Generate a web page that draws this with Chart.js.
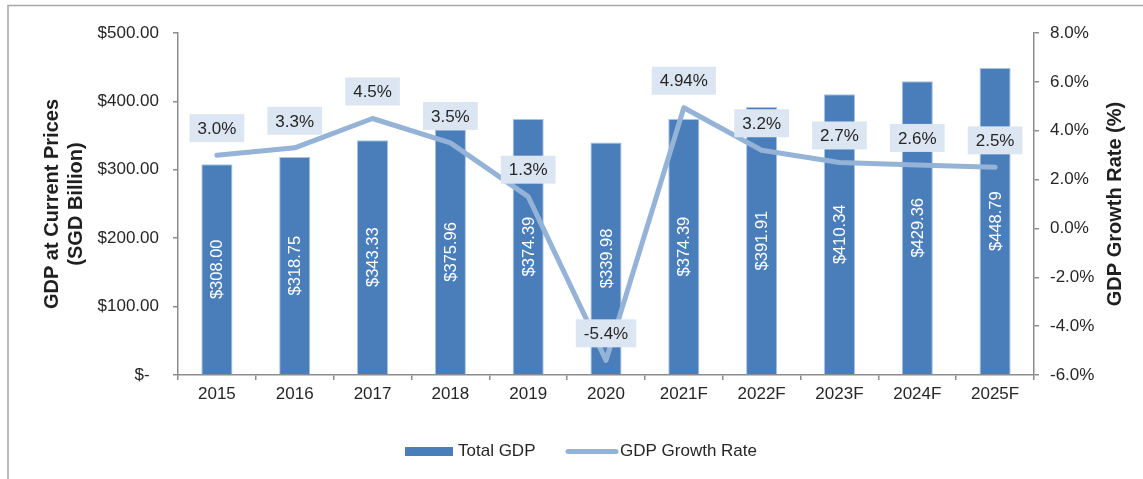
<!DOCTYPE html>
<html>
<head>
<meta charset="utf-8">
<script src="https://cdn.jsdelivr.net/npm/chart.js@4"></script>
<style>
  html, body { margin: 0; padding: 0; background: #fff; }
</style>
</head>
<body>
<canvas id="chart" width="1143" height="479"></canvas>
<script>
const years = ['2015', '2016', '2017', '2018', '2019', '2020', '2021F', '2022F', '2023F', '2024F', '2025F'];
// bar heights as drawn (2018 bar is drawn lower than its label says)
const totalGdp = [308.00, 318.75, 343.33, 359.00, 374.39, 339.98, 374.39, 391.91, 410.34, 429.36, 448.79];
const gdpLabels = ['$308.00', '$318.75', '$343.33', '$375.96', '$374.39', '$339.98', '$374.39', '$391.91', '$410.34', '$429.36', '$448.79'];
const growthRate = [3.0, 3.3, 4.5, 3.5, 1.3, -5.4, 4.94, 3.2, 2.7, 2.6, 2.5];
const growthLabels = ['3.0%', '3.3%', '4.5%', '3.5%', '1.3%', '-5.4%', '4.94%', '3.2%', '2.7%', '2.6%', '2.5%'];
const gdpTicks = ['$-  ', '$100.00', '$200.00', '$300.00', '$400.00', '$500.00'];
const rateTicks = ['-6.0%', '-4.0%', '-2.0%', '0.0%', '2.0%', '4.0%', '6.0%', '8.0%'];

const FONT = '"Liberation Sans", Arial, sans-serif';
const TEXT = '#262626';
const AXIS = '#8c8c8c';
const BAR = '#4a7ebb';
const LINE = '#95b3d7';

const decorations = {
  id: 'decorations',
  beforeDraw(chart) {
    const ctx = chart.ctx;
    ctx.save();
    ctx.strokeStyle = '#a6a6a6';
    ctx.lineWidth = 1.5;
    ctx.beginPath();
    ctx.moveTo(8, 479);
    ctx.lineTo(8, 5.5);
    ctx.lineTo(1143, 5.5);
    ctx.stroke();
    ctx.restore();
  },
  afterDatasetsDraw(chart) {
    const ctx = chart.ctx;
    ctx.save();
    ctx.textAlign = 'center';
    ctx.textBaseline = 'middle';

    // values inside the bars
    ctx.font = '16.5px ' + FONT;
    ctx.fillStyle = '#fff';
    chart.getDatasetMeta(0).data.forEach((bar, i) => {
      ctx.save();
      ctx.translate(bar.x, (bar.y + bar.base) / 2);
      ctx.rotate(-Math.PI / 2);
      ctx.fillText(gdpLabels[i], 0, 1);
      ctx.restore();
    });

    // growth rate boxes
    ctx.font = '17px ' + FONT;
    chart.getDatasetMeta(1).data.forEach((pt, i) => {
      const w = ctx.measureText(growthLabels[i]).width + 16;
      const h = 28;
      const cy = pt.y - 27;
      ctx.fillStyle = '#dce6f2';
      ctx.fillRect(pt.x - w / 2, cy - h / 2, w, h);
      ctx.fillStyle = TEXT;
      ctx.fillText(growthLabels[i], pt.x, cy + 1);
    });
    ctx.restore();
  },
  afterDraw(chart) {
    const ctx = chart.ctx;
    const area = chart.chartArea;
    const midY = (area.top + area.bottom) / 2;
    ctx.save();
    ctx.fillStyle = '#1f1f1f';
    ctx.font = 'bold 20px ' + FONT;
    ctx.textAlign = 'center';
    ctx.textBaseline = 'middle';

    // left title, two lines
    ctx.save();
    ctx.translate(52, midY);
    ctx.rotate(-Math.PI / 2);
    ctx.fillText('GDP at Current Prices', 0, 0);
    ctx.fillText('(SGD Billion)', 0, 24);
    ctx.restore();

    // right title
    ctx.save();
    ctx.translate(1115, midY);
    ctx.rotate(-Math.PI / 2);
    ctx.fillText('GDP Growth Rate (%)', 0, 0);
    ctx.restore();

    // legend
    const ly = 451.5;
    ctx.fillStyle = BAR;
    ctx.fillRect(405, ly - 4.5, 48, 9);
    ctx.strokeStyle = LINE;
    ctx.lineWidth = 5;
    ctx.lineCap = 'round';
    ctx.beginPath();
    ctx.moveTo(568, ly);
    ctx.lineTo(616, ly);
    ctx.stroke();
    ctx.fillStyle = TEXT;
    ctx.font = '17px ' + FONT;
    ctx.textAlign = 'left';
    ctx.fillText('Total GDP', 458, ly);
    ctx.fillText('GDP Growth Rate', 620, ly);
    ctx.restore();
  }
};

new Chart(document.getElementById('chart'), {
  type: 'bar',
  data: {
    labels: years,
    datasets: [
      {
        type: 'bar',
        label: 'Total GDP',
        data: totalGdp,
        yAxisID: 'y',
        backgroundColor: BAR,
        borderColor: '#a9c3e3',
        borderWidth: 1,
        barPercentage: 0.4,
        categoryPercentage: 1,
        order: 2
      },
      {
        type: 'line',
        label: 'GDP Growth Rate',
        data: growthRate,
        yAxisID: 'y1',
        borderColor: LINE,
        backgroundColor: LINE,
        borderWidth: 5,
        borderJoinStyle: 'round',
        borderCapStyle: 'round',
        pointRadius: 0,
        tension: 0,
        order: 1
      }
    ]
  },
  options: {
    responsive: false,
    animation: false,
    layout: { padding: { top: 33, left: 0, right: 0, bottom: 0 } },
    plugins: {
      legend: { display: false },
      tooltip: { enabled: false }
    },
    scales: {
      x: {
        afterFit: s => { s.height = 104; },
        grid: { drawOnChartArea: false, tickLength: 5, color: AXIS, lineWidth: 1.5, offset: true },
        border: { color: AXIS, width: 1.5 },
        ticks: { color: TEXT, font: { family: FONT, size: 17 }, padding: 4, maxRotation: 0 }
      },
      y: {
        position: 'left',
        min: 0,
        max: 500,
        afterFit: s => { s.width = 178; },
        grid: { drawOnChartArea: false, tickLength: 5, color: AXIS, lineWidth: 1.5 },
        border: { color: AXIS, width: 1.5 },
        ticks: {
          stepSize: 100,
          color: TEXT,
          font: { family: FONT, size: 17 },
          padding: 14,
          callback: (v, i) => gdpTicks[i]
        }
      },
      y1: {
        position: 'right',
        min: -6,
        max: 8,
        afterFit: s => { s.width = 109; },
        grid: { drawOnChartArea: false, tickLength: 5, color: AXIS, lineWidth: 1.5 },
        border: { color: AXIS, width: 1.5 },
        ticks: {
          stepSize: 2,
          color: TEXT,
          font: { family: FONT, size: 17 },
          padding: 11,
          callback: (v, i) => rateTicks[i]
        }
      }
    }
  },
  plugins: [decorations]
});
</script>
</body>
</html>
